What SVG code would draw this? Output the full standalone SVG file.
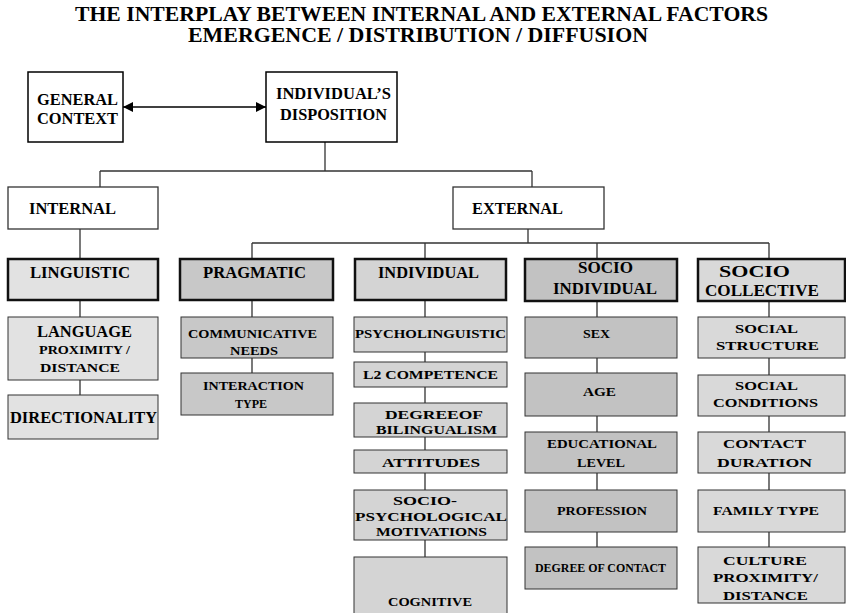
<svg xmlns="http://www.w3.org/2000/svg" width="846" height="613" viewBox="0 0 846 613">
<defs>
<marker id="ah" viewBox="0 0 10 10" refX="10" refY="5" markerWidth="10" markerHeight="10" markerUnits="userSpaceOnUse" orient="auto-start-reverse">
<path d="M0,0 L10,5 L0,10 z" fill="#000"/>
</marker>
</defs>
<style>
text{font-family:'Liberation Serif','DejaVu Serif',serif;font-weight:700;fill:#000;font-size:16px}
.t{font-size:20px}
.s{font-size:13.5px}
.w{fill:#fff;stroke:#000;stroke-width:1.5}
.wg{fill:#fff;stroke:#333;stroke-width:1.3}
.hd{stroke:#111;stroke-width:2.5}
.sb{stroke:#333;stroke-width:1}
.c1{fill:#e2e2e2}
.c2{fill:#c8c8c8}
.c3{fill:#d4d4d4}
.c4{fill:#c2c2c2}
.c5{fill:#d9d9d9}
.ln{stroke:#333;stroke-width:1.3;fill:none}
</style>
<rect width="846" height="613" fill="#fff"/>
<g id="title" font-family="Liberation Serif, serif">
<text class="t" x="75" y="21" textLength="693" lengthAdjust="spacingAndGlyphs">THE INTERPLAY BETWEEN INTERNAL AND EXTERNAL FACTORS</text>
<text class="t" x="188" y="42" textLength="460" lengthAdjust="spacingAndGlyphs">EMERGENCE / DISTRIBUTION / DIFFUSION</text>
</g>
<g id="connectors">
<line x1="123" y1="107" x2="266" y2="107" stroke="#000" stroke-width="1.5" marker-start="url(#ah)" marker-end="url(#ah)"/>
<path class="ln" d="M325,142 V171 M100,171 H532 M100,171 V187 M532,171 V187"/>
<path class="ln" d="M80,229 V259 M80,300 V317 M80,380 V395"/>
<path class="ln" d="M528,229 V243 M252,243 H769 M252,243 V259 M425,243 V259 M597,243 V259 M769,243 V259"/>
<path class="ln" d="M252,300 V317 M252,358 V373"/>
<path class="ln" d="M425,300 V317 M425,352 V362 M425,387 V403 M425,437 V450 M425,473 V490 M425,540 V557"/>
<path class="ln" d="M597,301 V317 M597,358 V373 M597,416 V432 M597,473 V490 M597,532 V547"/>
<path class="ln" d="M769,301 V317 M769,358 V375 M769,416 V432 M769,473 V490 M769,532 V547"/>
</g>
<g id="general-context">
<rect class="w" x="28" y="72" width="95" height="70"/>
<text x="37" y="105" textLength="81" lengthAdjust="spacingAndGlyphs">GENERAL</text>
<text x="37" y="124" textLength="81" lengthAdjust="spacingAndGlyphs">CONTEXT</text>
</g>
<g id="disposition">
<rect class="w" x="266" y="72" width="131" height="70"/>
<text x="276" y="99" textLength="115" lengthAdjust="spacingAndGlyphs">INDIVIDUAL’S</text>
<text x="280" y="120" textLength="107" lengthAdjust="spacingAndGlyphs">DISPOSITION</text>
</g>
<g id="internal">
<rect class="wg" x="8" y="187" width="150" height="42"/>
<text x="29" y="214" textLength="87" lengthAdjust="spacingAndGlyphs">INTERNAL</text>
</g>
<g id="external">
<rect class="wg" x="453" y="187" width="151" height="42"/>
<text x="472" y="214" textLength="91" lengthAdjust="spacingAndGlyphs">EXTERNAL</text>
</g>
<g id="linguistic">
<rect class="hd c1" x="8" y="259" width="150" height="41"/>
<text x="30" y="278" textLength="100" lengthAdjust="spacingAndGlyphs">LINGUISTIC</text>
</g>
<g id="language-proximity">
<rect class="sb c1" x="8" y="317" width="150" height="63"/>
<text x="37" y="337" textLength="95" lengthAdjust="spacingAndGlyphs">LANGUAGE</text>
<text class="s" x="39" y="354" textLength="91" lengthAdjust="spacingAndGlyphs">PROXIMITY /</text>
<text class="s" x="40" y="372" textLength="80" lengthAdjust="spacingAndGlyphs">DISTANCE</text>
</g>
<g id="directionality">
<rect class="sb c1" x="8" y="395" width="150" height="44"/>
<text x="10" y="423" textLength="147" lengthAdjust="spacingAndGlyphs">DIRECTIONALITY</text>
</g>
<g id="pragmatic">
<rect class="hd c2" x="180" y="259" width="153" height="41"/>
<text x="203" y="278" textLength="103" lengthAdjust="spacingAndGlyphs">PRAGMATIC</text>
</g>
<g id="communicative-needs">
<rect class="sb c2" x="181" y="317" width="152" height="41"/>
<text class="s" x="188" y="338" textLength="129" lengthAdjust="spacingAndGlyphs">COMMUNICATIVE</text>
<text class="s" x="230" y="355" textLength="48" lengthAdjust="spacingAndGlyphs">NEEDS</text>
</g>
<g id="interaction-type">
<rect class="sb c2" x="181" y="373" width="152" height="42"/>
<text class="s" x="203" y="390" textLength="101" lengthAdjust="spacingAndGlyphs">INTERACTION</text>
<text class="s" x="235" y="408" textLength="32" lengthAdjust="spacingAndGlyphs">TYPE</text>
</g>
<g id="individual">
<rect class="hd c3" x="355" y="259" width="151" height="41"/>
<text x="378" y="278" textLength="101" lengthAdjust="spacingAndGlyphs">INDIVIDUAL</text>
</g>
<g id="psycholinguistic">
<rect class="sb c3" x="354" y="317" width="153" height="35"/>
<text class="s" x="355" y="338" textLength="151" lengthAdjust="spacingAndGlyphs">PSYCHOLINGUISTIC</text>
</g>
<g id="l2-competence">
<rect class="sb c3" x="354" y="362" width="153" height="25"/>
<text class="s" x="363" y="379" textLength="135" lengthAdjust="spacingAndGlyphs">L2 COMPETENCE</text>
</g>
<g id="bilingualism">
<rect class="sb c3" x="354" y="403" width="153" height="34"/>
<text class="s" x="385" y="419" font-size="13" textLength="98" lengthAdjust="spacingAndGlyphs">DEGREEOF</text>
<text class="s" x="376" y="434" font-size="13" textLength="121" lengthAdjust="spacingAndGlyphs">BILINGUALISM</text>
</g>
<g id="attitudes">
<rect class="sb c3" x="354" y="450" width="153" height="23"/>
<text class="s" x="382" y="467" textLength="98" lengthAdjust="spacingAndGlyphs">ATTITUDES</text>
</g>
<g id="socio-psychological">
<rect class="sb c3" x="354" y="490" width="153" height="50"/>
<text class="s" x="393" y="505" style="font-size:13px" textLength="64" lengthAdjust="spacingAndGlyphs">SOCIO-</text>
<text class="s" x="355" y="521" style="font-size:13px" textLength="152" lengthAdjust="spacingAndGlyphs">PSYCHOLOGICAL</text>
<text class="s" x="376" y="536" style="font-size:13px" textLength="111" lengthAdjust="spacingAndGlyphs">MOTIVATIONS</text>
</g>
<g id="cognitive">
<rect class="sb c3" x="354" y="557" width="153" height="66"/>
<text class="s" x="388" y="606" textLength="84" lengthAdjust="spacingAndGlyphs">COGNITIVE</text>
</g>
<g id="socio-individual">
<rect class="hd c4" x="525" y="259" width="152" height="42"/>
<text x="578" y="273" textLength="55" lengthAdjust="spacingAndGlyphs">SOCIO</text>
<text x="553" y="294" textLength="104" lengthAdjust="spacingAndGlyphs">INDIVIDUAL</text>
</g>
<g id="sex">
<rect class="sb c4" x="525" y="317" width="152" height="41"/>
<text class="s" x="583" y="338" textLength="27" lengthAdjust="spacingAndGlyphs">SEX</text>
</g>
<g id="age">
<rect class="sb c4" x="525" y="373" width="152" height="43"/>
<text class="s" x="583" y="396" textLength="33" lengthAdjust="spacingAndGlyphs">AGE</text>
</g>
<g id="educational-level">
<rect class="sb c4" x="525" y="432" width="152" height="41"/>
<text class="s" x="547" y="448" textLength="110" lengthAdjust="spacingAndGlyphs">EDUCATIONAL</text>
<text class="s" x="577" y="467" textLength="48" lengthAdjust="spacingAndGlyphs">LEVEL</text>
</g>
<g id="profession">
<rect class="sb c4" x="525" y="490" width="152" height="42"/>
<text class="s" x="557" y="515" textLength="90" lengthAdjust="spacingAndGlyphs">PROFESSION</text>
</g>
<g id="degree-of-contact">
<rect class="sb c4" x="525" y="547" width="152" height="42"/>
<text x="535" y="572" style="font-size:11.5px" textLength="131" lengthAdjust="spacingAndGlyphs">DEGREE OF CONTACT</text>
</g>
<g id="socio-collective">
<rect class="hd c5" x="698" y="259" width="147" height="42"/>
<text x="719" y="277" textLength="71" lengthAdjust="spacingAndGlyphs">SOCIO</text>
<text x="705" y="296" textLength="114" lengthAdjust="spacingAndGlyphs">COLLECTIVE</text>
</g>
<g id="social-structure">
<rect class="sb c5" x="698" y="317" width="147" height="41"/>
<text class="s" x="735" y="333" textLength="63" lengthAdjust="spacingAndGlyphs">SOCIAL</text>
<text class="s" x="716" y="350" textLength="103" lengthAdjust="spacingAndGlyphs">STRUCTURE</text>
</g>
<g id="social-conditions">
<rect class="sb c5" x="698" y="375" width="147" height="41"/>
<text class="s" x="735" y="390" textLength="63" lengthAdjust="spacingAndGlyphs">SOCIAL</text>
<text class="s" x="713" y="407" textLength="105" lengthAdjust="spacingAndGlyphs">CONDITIONS</text>
</g>
<g id="contact-duration">
<rect class="sb c5" x="698" y="432" width="147" height="41"/>
<text class="s" x="723" y="448" textLength="83" lengthAdjust="spacingAndGlyphs">CONTACT</text>
<text class="s" x="717" y="467" textLength="95" lengthAdjust="spacingAndGlyphs">DURATION</text>
</g>
<g id="family-type">
<rect class="sb c5" x="698" y="490" width="147" height="42"/>
<text class="s" x="713" y="515" textLength="106" lengthAdjust="spacingAndGlyphs">FAMILY TYPE</text>
</g>
<g id="culture-proximity">
<rect class="sb c5" x="698" y="547" width="147" height="56"/>
<text class="s" x="723" y="565" textLength="84" lengthAdjust="spacingAndGlyphs">CULTURE</text>
<text class="s" x="713" y="582" textLength="105" lengthAdjust="spacingAndGlyphs">PROXIMITY/</text>
<text class="s" x="723" y="600" textLength="85" lengthAdjust="spacingAndGlyphs">DISTANCE</text>
</g>
</svg>
